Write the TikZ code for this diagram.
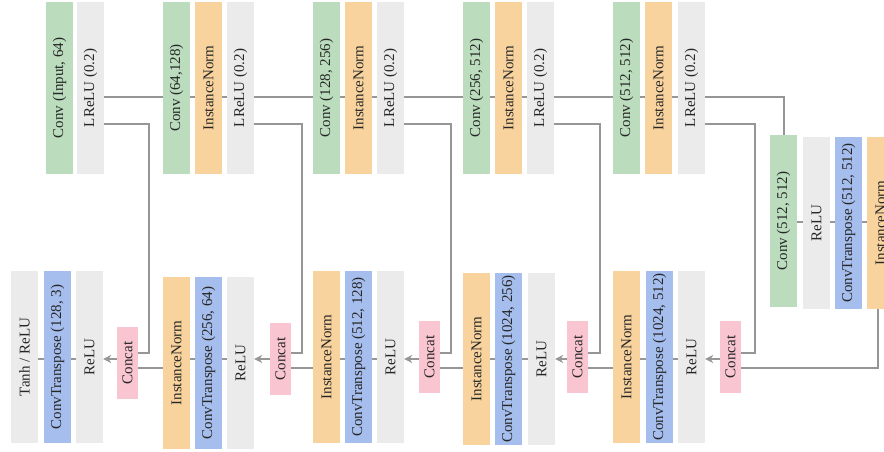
\documentclass[tikz,border=0pt]{standalone}
\usepackage{fontspec}
\setmainfont{Liberation Serif}
\usetikzlibrary{arrows.meta}

\definecolor{convgreen}{RGB}{187,221,190}
\definecolor{normorange}{RGB}{249,211,157}
\definecolor{actgray}{RGB}{235,235,235}
\definecolor{deconvblue}{RGB}{166,190,238}
\definecolor{catpink}{RGB}{248,197,209}
\definecolor{linegray}{RGB}{150,150,150}

\begin{document}
\begin{tikzpicture}[x=1pt, y=-1pt,
	block/.style={inner sep=0pt, minimum width=27pt, minimum height=172pt,
		font=\fontsize{15}{17}\selectfont, text=black!85},
	conv/.style={block, fill=convgreen},
	norm/.style={block, fill=normorange},
	act/.style={block, fill=actgray},
	deconv/.style={block, fill=deconvblue},
	concat/.style={block, fill=catpink, minimum width=21pt, minimum height=72pt},
	link/.style={draw=linegray, line width=2pt},
	tolink/.style={link, -{Stealth[length=8pt, width=8pt]}}]
	\useasboundingbox (0,0) rectangle (884,451);
	% levels of the lines
	\coordinate (topy) at (0,97);
	\coordinate (skiptopy) at (0,124);
	\coordinate (midy) at (0,222);
	\coordinate (skipy) at (0,353);
	\coordinate (mainy) at (0,359);
	\coordinate (upy) at (0,368);

	% encoder
	\node[conv] (e1c) at (59.5,88) {\rotatebox{90}{Conv (Input, 64)}};
	\node[act]  (e1r) at (90.5,88) {\rotatebox{90}{LReLU (0.2)}};
	\node[conv] (e2c) at (176.5,88) {\rotatebox{90}{Conv (64,128)}};
	\node[norm] (e2n) at (208.5,88) {\rotatebox{90}{InstanceNorm}};
	\node[act]  (e2r) at (240.5,88) {\rotatebox{90}{LReLU (0.2)}};
	\node[conv] (e3c) at (326.5,88) {\rotatebox{90}{Conv (128, 256)}};
	\node[norm] (e3n) at (358.5,88) {\rotatebox{90}{InstanceNorm}};
	\node[act]  (e3r) at (390.5,88) {\rotatebox{90}{LReLU (0.2)}};
	\node[conv] (e4c) at (476.5,88) {\rotatebox{90}{Conv (256, 512)}};
	\node[norm] (e4n) at (508.5,88) {\rotatebox{90}{InstanceNorm}};
	\node[act]  (e4r) at (540.5,88) {\rotatebox{90}{LReLU (0.2)}};
	\node[conv] (e5c) at (626.5,88) {\rotatebox{90}{Conv (512, 512)}};
	\node[norm] (e5n) at (658.5,88) {\rotatebox{90}{InstanceNorm}};
	\node[act]  (e5r) at (691.5,88) {\rotatebox{90}{LReLU (0.2)}};

	% bottleneck
	\node[conv]   (bc) at (783.5,221) {\rotatebox{90}{Conv (512, 512)}};
	\node[act]    (br) at (816.5,223) {\rotatebox{90}{ReLU}};
	\node[deconv] (bt) at (848.5,223) {\rotatebox{90}{ConvTranspose (512, 512)}};
	\node[norm]   (bn) at (880.5,223) {\rotatebox{90}{InstanceNorm}};

	% decoder
	\node[concat] (cat5) at (730.5,357) {\rotatebox{90}{Concat}};
	\node[act]    (d5r) at (691.5,357) {\rotatebox{90}{ReLU}};
	\node[deconv] (d5t) at (659.5,357) {\rotatebox{90}{ConvTranspose (1024, 512)}};
	\node[norm]   (d5n) at (626.5,357) {\rotatebox{90}{InstanceNorm}};
	\node[concat] (cat4) at (577.5,357) {\rotatebox{90}{Concat}};
	\node[act]    (d4r) at (541.5,359) {\rotatebox{90}{ReLU}};
	\node[deconv] (d4t) at (508.5,359) {\rotatebox{90}{ConvTranspose (1024, 256)}};
	\node[norm]   (d4n) at (476.5,359) {\rotatebox{90}{InstanceNorm}};
	\node[concat] (cat3) at (429.5,357) {\rotatebox{90}{Concat}};
	\node[act]    (d3r) at (390.5,357) {\rotatebox{90}{ReLU}};
	\node[deconv] (d3t) at (358.5,357) {\rotatebox{90}{ConvTranspose (512, 128)}};
	\node[norm]   (d3n) at (326.5,357) {\rotatebox{90}{InstanceNorm}};
	\node[concat] (cat2) at (280.5,359) {\rotatebox{90}{Concat}};
	\node[act]    (d2r) at (240.5,363) {\rotatebox{90}{ReLU}};
	\node[deconv] (d2t) at (208.5,363) {\rotatebox{90}{ConvTranspose (256, 64)}};
	\node[norm]   (d2n) at (176.5,363) {\rotatebox{90}{InstanceNorm}};
	\node[concat] (cat1) at (127.5,363) {\rotatebox{90}{Concat}};
	\node[act]    (d1r) at (89.5,357) {\rotatebox{90}{ReLU}};
	\node[deconv] (d1t) at (57.5,357) {\rotatebox{90}{ConvTranspose (128, 3)}};
	\node[act]    (out) at (24.5,357) {\rotatebox{90}{Tanh / ReLU}};

	% main path down the encoder
	\foreach \a/\b in {e1r/e2c, e2c/e2n, e2n/e2r, e2r/e3c, e3c/e3n, e3n/e3r,
		e3r/e4c, e4c/e4n, e4n/e4r, e4r/e5c, e5c/e5n, e5n/e5r}
		\draw[link] (\a.east |- topy) -- (\b.west |- topy);
	\draw[link] (e5r.east |- topy) -| (bc.north);
	\foreach \a/\b in {bc/br, br/bt, bt/bn}
		\draw[link] (\a.east |- midy) -- (\b.west |- midy);
	\draw[link] ([xshift=-2.5pt]bn.south) |- (cat5.east |- upy);

	% skip connections
	\draw[link] (e1r.east |- skiptopy) -| ([xshift=11pt]cat1.east |- skipy) -- (cat1.east |- skipy);
	\draw[link] (e2r.east |- skiptopy) -| ([xshift=11pt]cat2.east |- skipy) -- (cat2.east |- skipy);
	\draw[link] (e3r.east |- skiptopy) -| ([xshift=11pt]cat3.east |- skipy) -- (cat3.east |- skipy);
	\draw[link] (e4r.east |- skiptopy) -| ([xshift=12pt]cat4.east |- skipy) -- (cat4.east |- skipy);
	\draw[link] (e5r.east |- skiptopy) -| ([xshift=14pt]cat5.east |- skipy) -- (cat5.east |- skipy);

	% up the decoder
	\foreach \c/\r/\t/\n/\nxt in {cat5/d5r/d5t/d5n/cat4, cat4/d4r/d4t/d4n/cat3,
		cat3/d3r/d3t/d3n/cat2, cat2/d2r/d2t/d2n/cat1} {
		\draw[tolink] (\c.west |- mainy) -- (\r.east |- mainy);
		\draw[link] (\r.west |- mainy) -- (\t.east |- mainy);
		\draw[link] (\t.west |- mainy) -- (\n.east |- mainy);
		\draw[link] (\n.west |- upy) -- (\nxt.east |- upy);
	}
	\draw[tolink] (cat1.west |- mainy) -- (d1r.east |- mainy);
	\draw[link] (d1r.west |- mainy) -- (d1t.east |- mainy);
	\draw[link] (d1t.west |- mainy) -- (out.east |- mainy);
\end{tikzpicture}
\end{document}
